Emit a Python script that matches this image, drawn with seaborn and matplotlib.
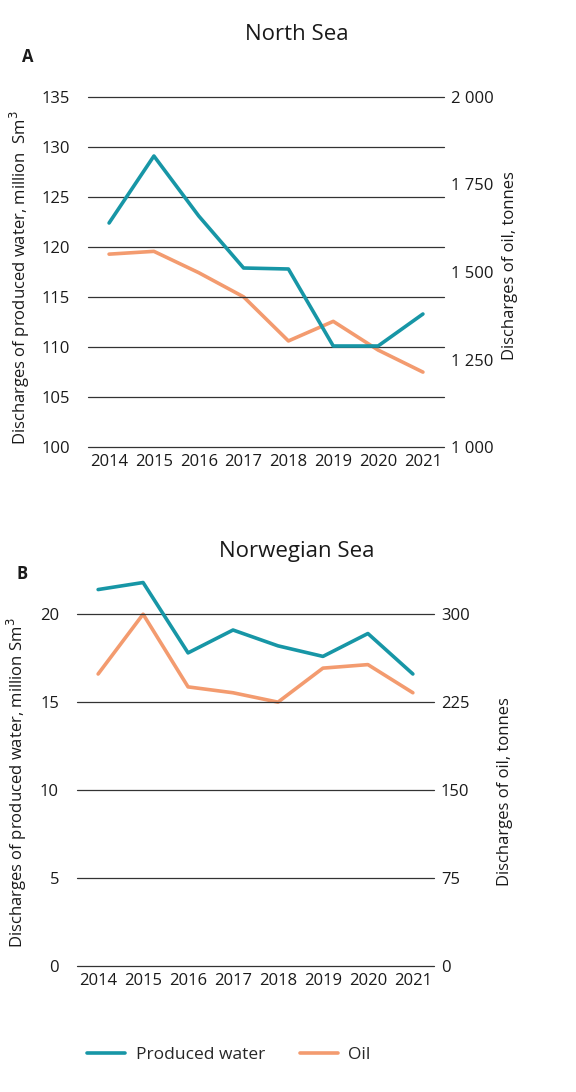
import matplotlib
matplotlib.use("Agg")
import matplotlib.pyplot as plt
import seaborn as sns
import pandas as pd
from matplotlib.lines import Line2D

years = ["2014", "2015", "2016", "2017", "2018", "2019", "2020", "2021"]
ns_water = [122.4, 129.1, 123.1, 117.9, 117.8, 110.1, 110.1, 113.3]
ns_oil = [1551, 1559, 1498, 1429, 1303, 1359, 1277, 1214]
nw_water = [21.4, 21.8, 17.8, 19.1, 18.2, 17.6, 18.9, 16.6]
nw_oil = [249, 300, 238, 233, 225, 254, 257, 233]

TEAL = "#1796a6"
ORANGE = "#f39b6f"
FONT = ["Open Sans", "DejaVu Sans"]
FS = 12

sns.set_theme(style="white")
plt.rcParams["font.family"] = FONT
plt.rcParams["axes.linewidth"] = 0

fig = plt.figure(figsize=(5.76, 10.92), dpi=100)

W = 576.0
H = 1092.0

def make_axes(left, right, top, bottom):
    return fig.add_axes([left / W, 1 - bottom / H, (right - left) / W, (bottom - top) / H])

def panel(ax, water, oil, ylim, yticks, ylim2, yticks2, ytl2, ylab_left, title, letter, title_y,
          letter_xy, lcoords, rcoords):
    df = pd.DataFrame({"x": range(len(years)), "water": water, "oil": oil})
    ax2 = ax.twinx()
    ax.set_zorder(ax2.get_zorder() + 1)
    ax.patch.set_visible(False)
    sns.lineplot(data=df, x="x", y="oil", ax=ax2, color=ORANGE, linewidth=2.6)
    sns.lineplot(data=df, x="x", y="water", ax=ax, color=TEAL, linewidth=2.6)
    ax.set_xlim(-0.47, 7.47)
    ax.set_ylim(*ylim)
    ax.set_yticks(yticks)
    ax2.set_ylim(*ylim2)
    ax2.set_yticks(yticks2)
    ax2.set_yticklabels(ytl2)
    ax.set_xticks(range(len(years)))
    ax.set_xticklabels(years)
    for a in (ax, ax2):
        for s in a.spines.values():
            s.set_visible(False)
        a.tick_params(length=0, labelsize=FS, colors="#1a1a1a")
    ax.tick_params(axis="y", pad=13)
    ax2.tick_params(axis="y", pad=5)
    ax.tick_params(axis="x", pad=5)
    ax.yaxis.grid(True, color="#333333", linewidth=0.9)
    ax2.grid(False)
    ax.xaxis.grid(False)
    for gl in ax.get_ygridlines():
        gl.set_zorder(0)
        gl.set_clip_on(False)
    ax.set_xlabel("")
    ax.set_ylabel(ylab_left, fontsize=FS, color="#1a1a1a")
    ax2.set_ylabel("Discharges of oil, tonnes", fontsize=FS, color="#1a1a1a")
    ax.yaxis.set_label_coords(*lcoords)
    ax2.yaxis.set_label_coords(*rcoords)
    fig.text(297 / W, 1 - title_y / H, title, ha="center", va="center", fontsize=16, color="#1a1a1a")
    fig.text(letter_xy[0] / W, 1 - letter_xy[1] / H, letter, ha="center", va="center",
             fontsize=12, fontweight="bold", color="#1a1a1a")

ax1 = make_axes(88, 444, 97, 447)
panel(ax1, ns_water, ns_oil, (100, 135), [100, 105, 110, 115, 120, 125, 130, 135],
      (1000, 2000), [1000, 1250, 1500, 1750, 2000], ["1 000", "1 250", "1 500", "1 750", "2 000"],
      "Discharges of produced water, million  Sm$^3$", "North Sea", "A", 35, (28, 57),
      (-0.157, 0.483), (1.163, 0.517))

ax3 = make_axes(77, 434, 579, 966)
panel(ax3, nw_water, nw_oil, (0, 22), [0, 5, 10, 15, 20],
      (0, 330), [0, 75, 150, 225, 300], ["0", "75", "150", "225", "300"],
      "Discharges of produced water, million Sm$^3$", "Norwegian Sea", "B", 551, (22, 574),
      (-0.135, 0.473), (1.177, 0.45))

handles = [Line2D([0], [0], color=TEAL, linewidth=2.6), Line2D([0], [0], color=ORANGE, linewidth=2.6)]
fig.legend(handles, ["Produced water", "Oil"], loc="center", bbox_to_anchor=(229 / W, 1 - 1055 / H),
           ncol=2, frameon=False, fontsize=12.5, handlelength=2.2, columnspacing=2.0, handletextpad=0.6)

fig.savefig("out.png", dpi=100)
